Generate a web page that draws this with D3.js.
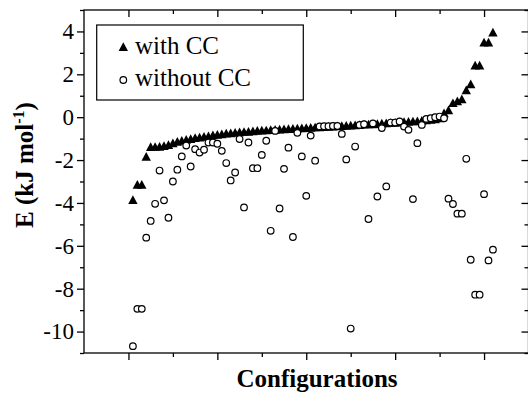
<!DOCTYPE html>
<html><head><meta charset="utf-8">
<script src="https://cdn.jsdelivr.net/npm/d3@7"></script>
<style>body{margin:0;background:#fff} svg{display:block} text{font-family:"Liberation Serif","Times New Roman",serif;}</style>
</head><body><svg id="c" width="528" height="393"></svg>
<script>
// configuration index (1..82)
const configs = d3.range(1, 83);
// E with CC (sorted ascending)
const withCC = [
 -3.85,-3.14,-3.14,-1.83,-1.38,-1.37,-1.36,-1.33,-1.28,-1.2,
 -1.13,-1.08,-1.04,-1.0,-0.96,-0.93,-0.9,-0.87,-0.83,-0.8,
 -0.78,-0.75,-0.73,-0.71,-0.69,-0.67,-0.66,-0.64,-0.62,-0.61,
 -0.6,-0.58,-0.57,-0.56,-0.55,-0.54,-0.52,-0.51,-0.5,-0.49,
 -0.48,-0.46,-0.45,-0.44,-0.43,-0.42,-0.41,-0.4,-0.38,-0.37,
 -0.36,-0.35,-0.33,-0.32,-0.31,-0.3,-0.28,-0.27,-0.25,-0.24,
 -0.22,-0.21,-0.2,-0.18,-0.17,-0.15,-0.13,-0.11,-0.08,-0.04,
 0.2,0.34,0.67,0.76,0.85,1.27,1.55,2.43,2.43,3.5,
 3.5,3.97];
// E without CC (same configurations)
const withoutCC = [
 -10.68,-8.94,-8.94,-5.62,-4.84,-4.04,-2.49,-3.88,-4.69,-3.0,
 -2.45,-1.83,-1.32,-2.3,-1.49,-1.65,-1.52,-1.18,-1.18,-1.24,
 -1.57,-2.14,-2.95,-2.58,-1.02,-4.21,-1.18,-2.38,-2.38,-1.76,
 -1.1,-5.3,-0.64,-4.26,-2.41,-1.42,-5.59,-0.73,-1.83,-3.67,
 -0.86,-2.03,-0.43,-0.42,-0.42,-0.41,-0.41,-0.78,-1.97,-9.86,
 -1.37,-0.36,-0.33,-4.75,-0.29,-3.7,-0.51,-3.23,-0.25,-0.25,
 -0.2,-0.44,-0.59,-3.82,-1.21,-0.36,-0.08,-0.05,0.0,0.03,
 -0.05,-3.8,-4.05,-4.5,-4.5,-1.94,-6.65,-8.28,-8.28,-3.59,
 -6.68,-6.18];
const xMajor = [0,20,40,60,80];
const xMinor = [10,30,50,70];
const yMajor = [-10,-8,-6,-4,-2,0,2,4];
const yMinor = [-11,-9,-7,-5,-3,-1,1,3,5];
const yLabels = ["-10","-8","-6","-4","-2","0","2","4"];
const seriesNames = ["with CC","without CC"];

const svg = d3.select("#c");
const x = d3.scaleLinear().domain([-10,90]).range([84,528.5]);
const y = d3.scaleLinear().domain([-11,5]).range([353,10]);
const FONT = '"Liberation Serif","Times New Roman",serif';

function styleAxis(g){
  g.select(".domain").remove();
  g.selectAll("line").attr("stroke","#000").attr("stroke-width",1.3);
  g.selectAll("text").style("font-family",FONT).attr("font-size",23).attr("fill","#000");
}
// bottom
svg.append("g").attr("transform","translate(0,353)")
  .call(d3.axisBottom(x).tickValues(xMajor).tickSize(7).tickFormat("")).call(styleAxis);
svg.append("g").attr("transform","translate(0,353)")
  .call(d3.axisBottom(x).tickValues(xMinor).tickSize(4).tickFormat("")).call(styleAxis);
// top (inward)
svg.append("g").attr("transform","translate(0,10)")
  .call(d3.axisTop(x).tickValues(xMajor).tickSize(-7).tickFormat("")).call(styleAxis);
svg.append("g").attr("transform","translate(0,10)")
  .call(d3.axisTop(x).tickValues(xMinor).tickSize(-4).tickFormat("")).call(styleAxis);
// left
svg.append("g").attr("transform","translate(84,0)")
  .call(d3.axisLeft(y).tickValues(yMajor).tickSize(7).tickPadding(3)
    .tickFormat((d,i)=>yLabels[i])).call(styleAxis);
svg.append("g").attr("transform","translate(84,0)")
  .call(d3.axisLeft(y).tickValues(yMinor).tickSize(4).tickFormat("")).call(styleAxis);
// right (inward)
svg.append("g").attr("transform","translate(528.5,0)")
  .call(d3.axisRight(y).tickValues(yMajor).tickSize(-7).tickFormat("")).call(styleAxis);
svg.append("g").attr("transform","translate(528.5,0)")
  .call(d3.axisRight(y).tickValues(yMinor).tickSize(-4).tickFormat("")).call(styleAxis);

// frame
svg.append("rect").attr("x",x(-10)).attr("y",y(5))
  .attr("width",x(90)-x(-10)).attr("height",y(-11)-y(5))
  .attr("fill","none").attr("stroke","#000").attr("stroke-width",1.3);

const tri = "M0,-4.4L4.7,4.3L-4.7,4.3Z";
// with CC triangles
svg.append("g").selectAll("path").data(configs).join("path")
  .attr("d",tri).attr("fill","#000")
  .attr("transform",(d,i)=>`translate(${x(d)},${y(withCC[i])})`);
// without CC circles
svg.append("g").selectAll("circle").data(configs).join("circle")
  .attr("cx",d=>x(d)).attr("cy",(d,i)=>y(withoutCC[i])).attr("r",3.3)
  .attr("fill","#fff").attr("stroke","#000").attr("stroke-width",1.2);

// legend
const lg = svg.append("g");
lg.append("rect").attr("x",96.7).attr("y",25).attr("width",206.6).attr("height",75)
  .attr("fill","#fff").attr("stroke","#000").attr("stroke-width",1.2);
lg.append("path").attr("d",tri).attr("fill","#000").attr("transform","translate(123.3,46.7)");
lg.append("circle").attr("cx",123.3).attr("cy",80).attr("r",3.3)
  .attr("fill","#fff").attr("stroke","#000").attr("stroke-width",1.2);
lg.selectAll("text").data(seriesNames).join("text")
  .attr("x",135).attr("y",(d,i)=>i?86:54)
  .style("font-family",FONT).attr("font-size",25).attr("fill","#000").text(d=>d);

// axis titles
svg.append("text").attr("x",317).attr("y",387).attr("text-anchor","middle")
  .style("font-family",FONT).attr("font-size",25).attr("font-weight","bold").text("Configurations");
const yt = svg.append("text").attr("transform","translate(33,165) rotate(-90)")
  .attr("text-anchor","middle").style("font-family",FONT).attr("font-size",25).attr("font-weight","bold");
yt.append("tspan").text("E (kJ mol");
yt.append("tspan").attr("font-size",16).attr("dy",-9).text("-1");
yt.append("tspan").attr("dy",9).text(")");
</script></body></html>
